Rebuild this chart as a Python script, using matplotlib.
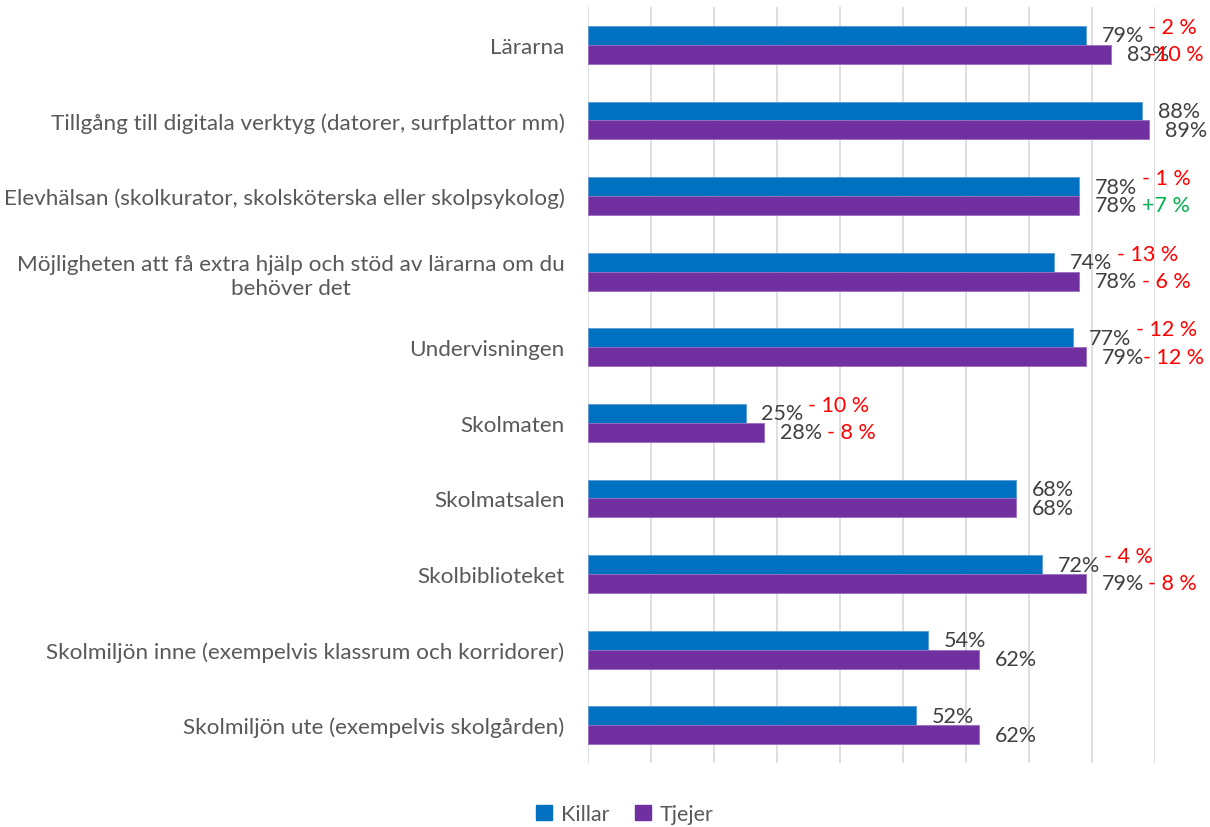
import numpy as np
import matplotlib.pyplot as plt
from matplotlib.patches import Patch

plt.rcParams['font.family'] = ['Lato', 'DejaVu Sans']

# Data
categories = [
    'Lärarna',
    'Tillgång till digitala verktyg (datorer, surfplattor mm)',
    'Elevhälsan (skolkurator, skolsköterska eller skolpsykolog)',
    'Möjligheten att få extra hjälp och stöd av lärarna om du\nbehöver det',
    'Undervisningen',
    'Skolmaten',
    'Skolmatsalen',
    'Skolbiblioteket',
    'Skolmiljön inne (exempelvis klassrum och korridorer)',
    'Skolmiljön ute (exempelvis skolgården)',
]
killar = [79, 88, 78, 74, 77, 25, 68, 72, 54, 52]
tjejer = [83, 89, 78, 78, 79, 28, 68, 79, 62, 62]
diff_killar = ['- 2 %', None, '- 1 %', '- 13 %', '- 12 %', '- 10 %', None, '- 4 %', None, None]
diff_tjejer = ['-10 %', None, '+7 %', '- 6 %', '- 12 %', '- 8 %', None, '- 8 %', None, None]

blue = '#0070C0'
purple = '#7030A0'
label_col = '#404040'
text_col = '#595959'

fig = plt.figure(figsize=(12.1, 8.28), dpi=100)
ax = fig.add_axes([588 / 1210, 1 - 764 / 828, (1155 - 588) / 1210, 756 / 828])

y = np.arange(len(categories))
h = 0.25
bk = ax.barh(y - h / 2, killar, height=h, color=blue, edgecolor='#5B9BD5', linewidth=0.6, label='Killar', zorder=3)
bt = ax.barh(y + h / 2, tjejer, height=h, color=purple, edgecolor='#9A6CC0', linewidth=0.6, label='Tjejer', zorder=3)

ax.set_xlim(0, 90)
ax.set_ylim(len(categories) - 0.5, -0.5)
ax.set_xticks(np.arange(0, 91, 10))
ax.set_xticklabels([])
ax.tick_params(axis='x', length=0)
ax.grid(axis='x', color='#D9D9D9', linewidth=1.2, zorder=0)
for s in ax.spines.values():
    s.set_visible(False)

ax.set_yticks(y)
ax.set_yticklabels(categories, fontsize=16.2, color=text_col, multialignment='center', linespacing=1.25)
ax.tick_params(axis='y', length=0, pad=17)

# value labels
lk = ax.bar_label(bk, fmt='{:.0f}%', padding=11.5, fontsize=15.5, color=label_col)
lt = ax.bar_label(bt, fmt='{:.0f}%', padding=11.5, fontsize=15.5, color=label_col)

# change vs. previous year
diffs = []
for i in range(len(categories)):
    if diff_killar[i]:
        d = ax.annotate(diff_killar[i], xy=(1, 0.5), xycoords=lk[i], xytext=(3, 6),
                        textcoords='offset points', ha='left', va='center', fontsize=15.5, color='#FF0000')
        diffs.append(d)
    if diff_tjejer[i]:
        c = '#00B050' if diff_tjejer[i].startswith('+') else '#FF0000'
        d = ax.annotate(diff_tjejer[i], xy=(1, 0.5), xycoords=lt[i], xytext=(3, 0),
                        textcoords='offset points', ha='left', va='center', fontsize=15.5, color=c)
        diffs.append(d)

handles = [Patch(color=blue, label='Killar'), Patch(color=purple, label='Tjejer')]
fig.legend(handles=handles, loc='center', bbox_to_anchor=(625 / 1210, 1 - 815 / 828), ncol=2,
           frameon=False, fontsize=15.5, labelcolor=text_col, handlelength=0.75, handleheight=0.75,
           handletextpad=0.4, columnspacing=1.2)

# pull back any change label that would run off the right edge
fig.canvas.draw()
fig_w = fig.bbox.width
for d in diffs:
    bb = d.get_window_extent()
    over = bb.x1 - (fig_w - 6)
    if over > 0:
        ox, oy = d.xyann
        d.xyann = (ox - over * 72 / fig.dpi, oy)

fig.savefig('out.png', dpi=100)
